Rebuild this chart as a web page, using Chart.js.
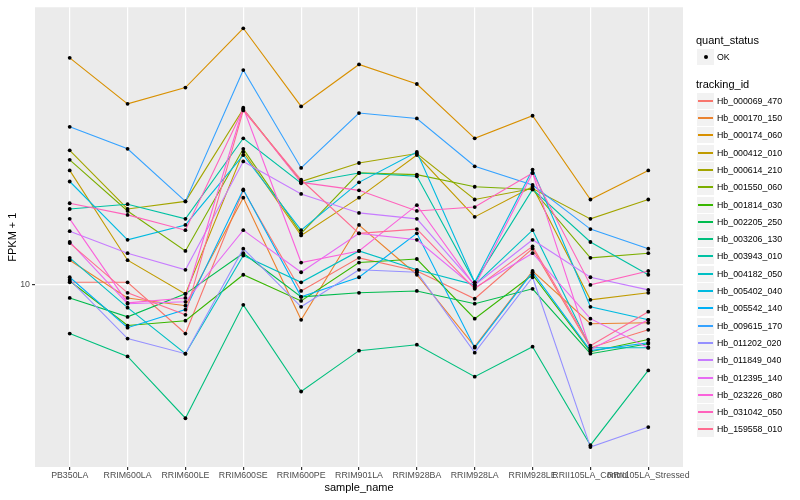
<!DOCTYPE html>
<html>
<head>
<meta charset="utf-8">
<script src="https://cdn.jsdelivr.net/npm/chart.js@4.4.1/dist/chart.umd.min.js"></script>
<style>
    body { margin: 0; background: #fff; }
    #wrap { position: relative; width: 800px; height: 500px; font-family: "Liberation Sans", Arial, sans-serif; }
    #chart { position: absolute; left: 0; top: 0; }
    .lg-title { position: absolute; left: 696px; font-size: 11px; line-height: 13px; color: #000; white-space: nowrap; }
    .lg-row { position: absolute; left: 697px; width: 100px; height: 17px; }
    .lg-key { position: absolute; left: 0; top: 0; width: 17px; height: 16px; background: #F2F2F2; }
    .lg-line { position: absolute; left: 1px; top: 7px; width: 15px; height: 2px; }
    .lg-dot { position: absolute; left: 6.5px; top: 6px; width: 4px; height: 4px; border-radius: 50%; background: #000; }
    .lg-text { position: absolute; left: 20px; top: 0; line-height: 16px; font-size: 8.8px; color: #000; white-space: nowrap; }
</style>
</head>
<body>
<div id="wrap">
    <canvas id="chart" width="800" height="500"></canvas>
    <div id="legend"></div>
</div>
<script>
const categories = ['PB350LA', 'RRIM600LA', 'RRIM600LE', 'RRIM600SE', 'RRIM600PE', 'RRIM901LA',
    'RRIM928BA', 'RRIM928LA', 'RRIM928LE', 'RRII105LA_Control', 'RRII105LA_Stressed'];

const trackingIds = ['Hb_000069_470', 'Hb_000170_150', 'Hb_000174_060', 'Hb_000412_010', 'Hb_000614_210',
    'Hb_001550_060', 'Hb_001814_030', 'Hb_002205_250', 'Hb_003206_130', 'Hb_003943_010',
    'Hb_004182_050', 'Hb_005402_040', 'Hb_005542_140', 'Hb_009615_170', 'Hb_011202_020',
    'Hb_011849_040', 'Hb_012395_140', 'Hb_023226_080', 'Hb_031042_050', 'Hb_159558_010'];

// FPKM + 1 per sample
const hb000069_470 = [10.1, 10.1, 8.29, 14.4, 9.77, 11.1, 10.55, 9.48, 11.5, 7.85, 8.41];
const hb000170_150 = [11.0, 9.51, 9.23, 14.0, 8.74, 12.6, 10.4, 7.88, 10.55, 8.61, 8.64];
const hb000174_060 = [24.0, 20.1, 21.4, 26.9, 19.9, 23.4, 21.7, 17.6, 19.2, 13.9, 15.55];
const hb000412_010 = [15.55, 11.0, 9.66, 16.7, 12.1, 14.0, 16.5, 13.0, 14.6, 9.44, 9.70];
const hb000614_210 = [16.8, 13.4, 13.8, 19.7, 14.9, 16.0, 16.6, 13.9, 14.5, 12.9, 13.9];
const hb001550_060 = [16.2, 13.3, 11.4, 16.9, 12.2, 15.4, 15.3, 14.6, 14.45, 11.1, 11.3];
const hb001814_030 = [10.15, 8.55, 8.71, 10.4, 9.40, 10.9, 11.05, 8.78, 10.4, 7.73, 8.10];
const hb002205_250 = [9.51, 8.84, 9.66, 11.3, 9.55, 9.70, 9.77, 9.30, 9.85, 7.67, 7.97];
const hb003206_130 = [8.29, 7.59, 5.98, 9.26, 6.63, 7.76, 7.94, 7.02, 7.88, 5.39, 7.19];
const hb003943_010 = [13.4, 13.65, 12.9, 17.6, 14.8, 15.4, 15.2, 10.1, 14.45, 11.8, 10.4];
const hb004182_050 = [11.1, 9.16, 7.67, 11.2, 10.1, 11.4, 10.6, 10.0, 12.35, 7.85, 7.85];
const hb005402_040 = [14.9, 11.9, 12.6, 16.5, 12.35, 14.85, 16.7, 10.1, 15.6, 9.19, 8.74];
const hb005542_140 = [10.3, 8.48, 9.09, 14.45, 9.55, 10.3, 12.2, 7.85, 10.5, 7.76, 8.00];
const hb009615_170 = [18.4, 16.9, 13.8, 22.9, 15.7, 19.4, 19.0, 15.8, 14.7, 12.4, 11.5];
const hb011202_020 = [10.2, 8.13, 7.67, 11.5, 9.19, 10.6, 10.5, 7.70, 10.3, 5.35, 5.78];
const hb011849_040 = [12.3, 11.3, 10.6, 16.1, 14.2, 13.2, 12.9, 10.0, 11.9, 10.3, 9.81];
const hb012395_140 = [11.8, 9.30, 9.37, 12.35, 10.5, 12.2, 11.9, 9.89, 11.3, 8.78, 7.85];
const hb023226_080 = [12.9, 9.33, 9.51, 19.8, 10.9, 11.4, 13.6, 9.96, 15.4, 7.79, 8.74];
const hb031042_050 = [13.7, 13.1, 12.35, 19.7, 14.85, 14.4, 13.3, 13.5, 15.4, 10.0, 10.55];
const hb159558_010 = [11.75, 9.70, 8.91, 19.6, 15.0, 12.2, 12.4, 9.85, 11.6, 7.91, 9.02];

const yTicks = [10];

const seriesValues = [hb000069_470, hb000170_150, hb000174_060, hb000412_010, hb000614_210,
    hb001550_060, hb001814_030, hb002205_250, hb003206_130, hb003943_010,
    hb004182_050, hb005402_040, hb005542_140, hb009615_170, hb011202_020,
    hb011849_040, hb012395_140, hb023226_080, hb031042_050, hb159558_010];

// ggplot hue palette, 20 levels
const palette = ['#F8766D', '#EA8331', '#D89000', '#C09B00', '#A3A500', '#7CAE00', '#39B600', '#00BB4E',
    '#00BF7D', '#00C1A3', '#00BFC4', '#00BAE0', '#00B0F6', '#35A2FF', '#9590FF', '#C77CFF',
    '#E76BF3', '#FA62DB', '#FF62BC', '#FF6C91'];

const FONT = '"Liberation Sans", Arial, sans-serif';
Chart.defaults.font.family = FONT;

const datasets = seriesValues.map((values, s) => ({
    type: 'line',
    label: trackingIds[s],
    data: values.map((v, i) => ({x: i, y: v})),
    borderColor: palette[s],
    borderWidth: 1.1,
    pointRadius: 0,
    tension: 0,
    order: 100 - s
}));

const allPoints = [];
seriesValues.forEach(values => values.forEach((v, i) => allPoints.push({x: i, y: v})));
datasets.push({
    type: 'scatter',
    label: 'OK',
    data: allPoints,
    pointRadius: 1.9,
    pointBackgroundColor: '#000',
    pointBorderWidth: 0,
    showLine: false,
    order: 0
});

const panelBackground = {
    id: 'panelBackground',
    beforeDraw(chart) {
        const {ctx, chartArea} = chart;
        ctx.save();
        ctx.fillStyle = '#EBEBEB';
        ctx.fillRect(chartArea.left, chartArea.top, chartArea.right - chartArea.left, chartArea.bottom - chartArea.top);
        ctx.restore();
    }
};

new Chart(document.getElementById('chart'), {
    data: {datasets: datasets},
    options: {
        responsive: false,
        animation: false,
        layout: {padding: {left: 0, right: 117, top: 5, bottom: 0}},
        plugins: {
            legend: {display: false},
            tooltip: {enabled: false}
        },
        scales: {
            x: {
                type: 'linear',
                min: -0.6,
                max: categories.length - 0.4,
                afterBuildTicks: scale => {
                    scale.ticks = categories.map((c, i) => ({value: i}));
                },
                afterFit: scale => { scale.height = 33; },
                ticks: {
                    autoSkip: false,
                    maxRotation: 0,
                    minRotation: 0,
                    color: '#4D4D4D',
                    font: {size: 8.8},
                    padding: 0,
                    callback: value => categories[value]
                },
                grid: {color: '#FFFFFF', lineWidth: 1.2, tickColor: '#333333', tickLength: 3},
                border: {display: false},
                title: {display: true, text: 'sample_name', color: '#000', font: {size: 11}, padding: {top: 2, bottom: 5}}
            },
            y: {
                type: 'logarithmic',
                min: 4.955,
                max: 29.17,
                afterBuildTicks: scale => {
                    scale.ticks = yTicks.map(v => ({value: v}));
                },
                afterFit: scale => { scale.width = 35; },
                ticks: {
                    color: '#4D4D4D',
                    font: {size: 8.8},
                    padding: 2,
                    callback: value => String(value)
                },
                grid: {color: '#FFFFFF', lineWidth: 1.2, tickColor: '#333333', tickLength: 3},
                border: {display: false},
                title: {display: true, text: 'FPKM + 1', color: '#000', font: {size: 11}, padding: {top: 6, bottom: 2}}
            }
        }
    },
    plugins: [panelBackground]
});

// ggplot-style legend on the right
const legend = document.getElementById('legend');
function addTitle(text, centerY) {
    const el = document.createElement('div');
    el.className = 'lg-title';
    el.style.top = Math.round(centerY - 6.5) + 'px';
    el.textContent = text;
    legend.appendChild(el);
}
function addRow(text, centerY, color) {
    const row = document.createElement('div');
    row.className = 'lg-row';
    row.style.top = Math.round(centerY - 8) + 'px';
    const key = document.createElement('div');
    key.className = 'lg-key';
    const mark = document.createElement('div');
    if (color) {
        mark.className = 'lg-line';
        mark.style.background = color;
    } else {
        mark.className = 'lg-dot';
    }
    key.appendChild(mark);
    const label = document.createElement('div');
    label.className = 'lg-text';
    label.textContent = text;
    row.appendChild(key);
    row.appendChild(label);
    legend.appendChild(row);
}
addTitle('quant_status', 40.7);
addRow('OK', 57, null);
addTitle('tracking_id', 84);
trackingIds.forEach((id, i) => addRow(id, 100.7 + 17.3 * i, palette[i]));
</script>
</body>
</html>
